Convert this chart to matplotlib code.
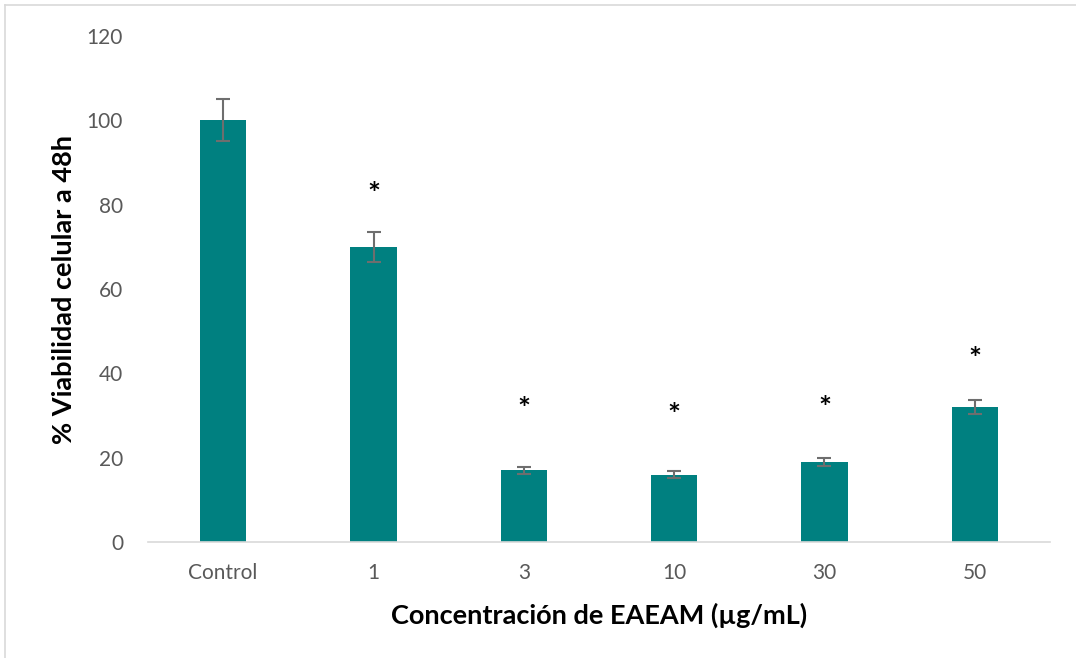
import matplotlib
matplotlib.use("Agg")
import matplotlib.pyplot as plt
from matplotlib.lines import Line2D

categories = ["Control", "1", "3", "10", "30", "50"]
viability = [100, 70, 17, 16, 19, 32]
errors = [5, 3.5, 0.9, 0.9, 1.0, 1.7]
significant = [False, True, True, True, True, True]
star_y = [None, 84, 33, 31.5, 33.2, 44.8]

plt.rcParams['font.family'] = ['Lato', 'DejaVu Sans']

fig = plt.figure(figsize=(10.76, 6.58), dpi=100)
ax = fig.add_axes([148/1076, 116/658, (1050-148)/1076, (542-36)/658])

x = list(range(len(categories)))
ax.bar(x, viability, width=0.31, color="#008080", zorder=2)
ax.errorbar(x, viability, yerr=errors, fmt="none", ecolor="#6e6e6e",
            elinewidth=1.5, capsize=5, capthick=1.5, zorder=3)
for xi, sig, sy in zip(x, significant, star_y):
    if sig:
        ax.annotate("*", xy=(xi, sy), xytext=(0, -5), textcoords="offset points",
                    ha="center", va="center", fontsize=22,
                    fontweight="bold", color="black")

ax.set_xlim(-0.5, len(categories) - 0.5)
ax.set_ylim(0, 120)
ax.set_yticks([0, 20, 40, 60, 80, 100, 120])
ax.set_xticks(x)
ax.set_xticklabels(categories)
ax.tick_params(axis="both", length=0, labelsize=15, labelcolor="#595959")
ax.tick_params(axis="y", pad=18)
ax.tick_params(axis="x", pad=15)
for s in ["top", "right", "left"]:
    ax.spines[s].set_visible(False)
ax.spines["bottom"].set_color("#d9d9d9")
ax.spines["bottom"].set_linewidth(1.2)

ax.set_xlabel("Concentración de EAEAM (µg/mL)", fontsize=19.5, fontweight="bold",
              color="black", labelpad=14)
ax.set_ylabel("% Viabilidad celular a 48h", fontsize=19.5, fontweight="bold",
              color="black", labelpad=8)

# chart border
fig.add_artist(Line2D([5/1076, 5/1076], [0, 1 - 5/658], transform=fig.transFigure,
                      color="#d9d9d9", linewidth=1.2))
fig.add_artist(Line2D([5/1076, 1], [1 - 5/658, 1 - 5/658], transform=fig.transFigure,
                      color="#d9d9d9", linewidth=1.2))

fig.savefig("out.png", dpi=100)
